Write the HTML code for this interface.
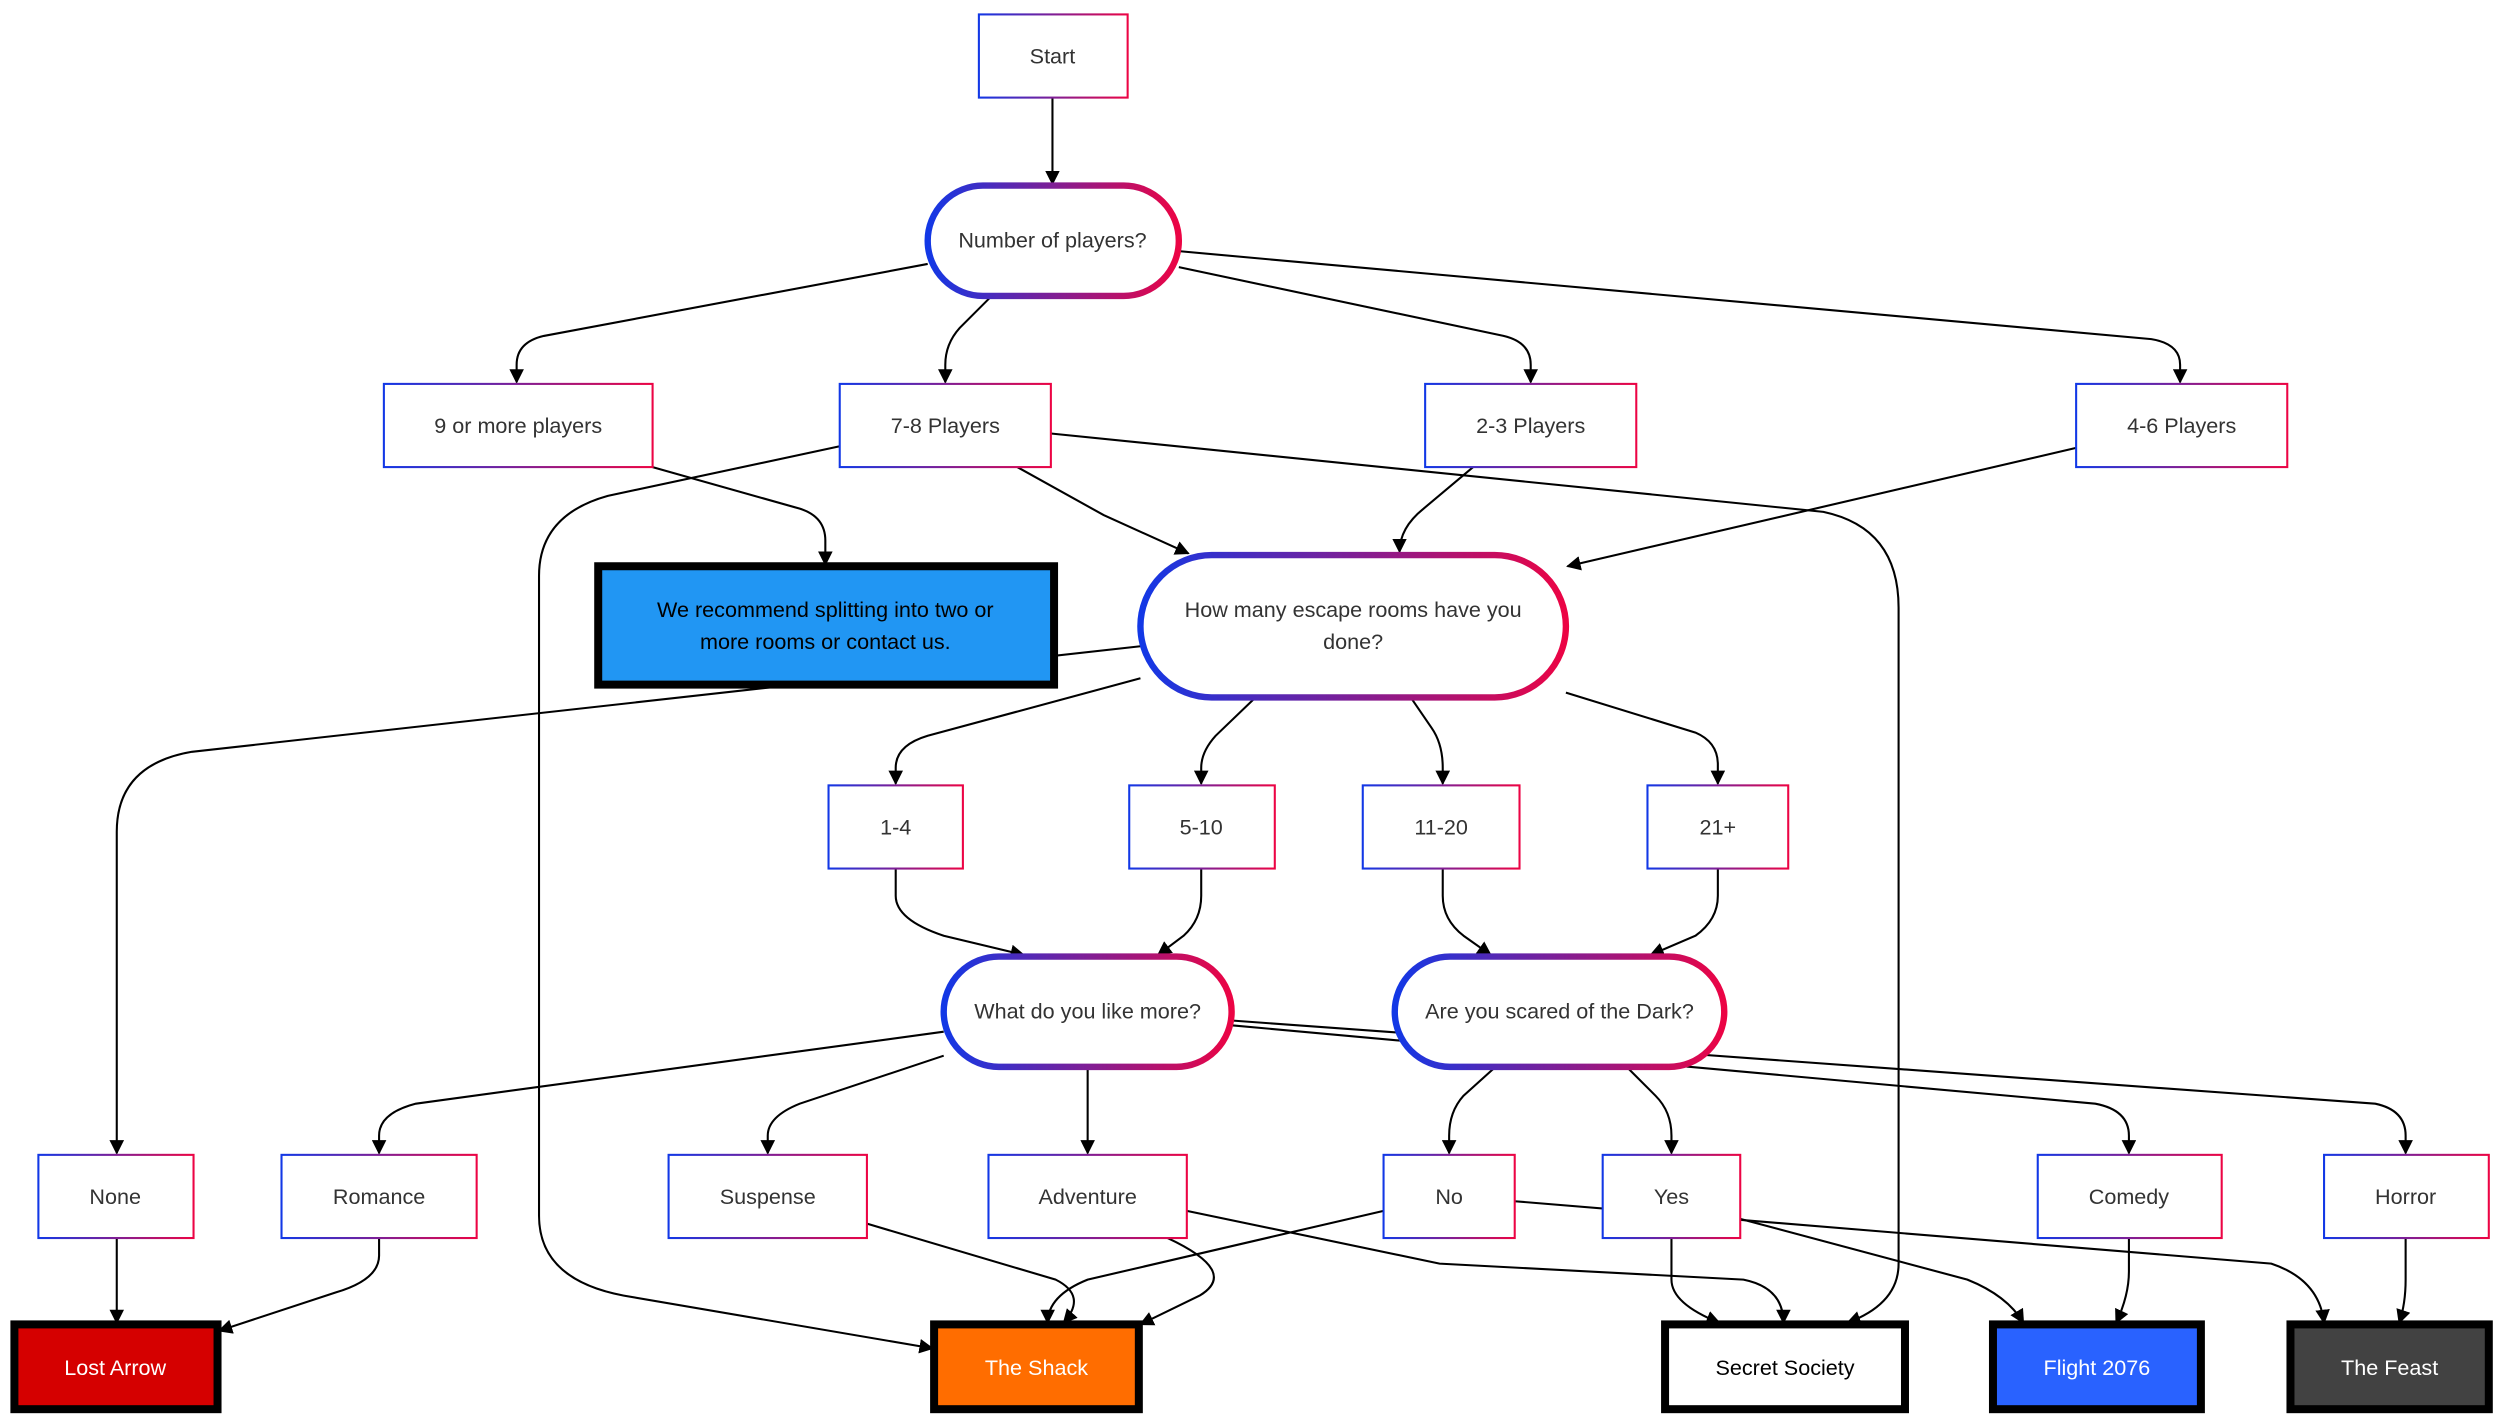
<!DOCTYPE html>
<html><head><meta charset="utf-8"><style>
html,body{margin:0;padding:0;background:#fff;}
svg{display:block;}
text{font-family:"Liberation Sans",Arial,sans-serif;font-size:13.5px;fill:#333;text-anchor:middle;dominant-baseline:central;}
.e{fill:none;stroke:#000;stroke-width:1.3;marker-end:url(#a);}
.r{fill:#fff;stroke:url(#g);stroke-width:1.3;}
.p{fill:#fff;stroke:url(#g);stroke-width:4;}
.f{stroke:#000;stroke-width:5;}
.w{fill:#fff;}
</style></head><body>
<svg width="2500" height="1422" viewBox="0 0 1563 889" xmlns="http://www.w3.org/2000/svg">
<defs>
<linearGradient id="g" x1="0" y1="0" x2="1" y2="0"><stop offset="0" stop-color="#1238e6"/><stop offset="1" stop-color="#ec0444"/></linearGradient>
<marker id="a" viewBox="0 0 10 10" refX="9" refY="5" markerWidth="7" markerHeight="7" orient="auto-start-reverse"><path d="M0,0 L10,5 L0,10 z" fill="#000"/></marker>
</defs>
<!-- edges -->
<path class="e" d="M658,61 V115"/>
<path class="e" d="M580,165 L340,210 Q323,214 323,228 V239"/>
<path class="e" d="M620,185 L600,205 Q591,215 591,228 V239"/>
<path class="e" d="M737,167 L940,210 Q957,214 957,228 V239"/>
<path class="e" d="M737,157 L1345,212 Q1363,215 1363,228 V239"/>
<path class="e" d="M408,292 L500,318 Q516,323 516,338 V353"/>
<path class="e" d="M636,292 L690,322 L743,346"/>
<path class="e" d="M525,279 L380,310 Q337,322 337,360 V760 Q337,800 390,810 L583,843"/>
<path class="e" d="M657,271 L1140,320 Q1187,330 1187,380 V790 Q1187,815 1155,827"/>
<path class="e" d="M921,292 L890,318 Q875,330 875,345"/>
<path class="e" d="M1298,280 L980,354"/>
<path class="e" d="M713,404 L120,470 Q73,478 73,520 V721"/>
<path class="e" d="M713,424 L580,460 Q560,466 560,480 V490"/>
<path class="e" d="M785,436 L760,460 Q751,470 751,480 V490"/>
<path class="e" d="M882,436 L895,455 Q902,465 902,480 V490"/>
<path class="e" d="M979,433 L1060,458 Q1074,464 1074,478 V490"/>
<path class="e" d="M560,543 V560 Q560,575 590,585 L640,597"/>
<path class="e" d="M751,543 V560 Q751,575 740,585 L724,597"/>
<path class="e" d="M902,543 V560 Q902,575 915,585 L932,597"/>
<path class="e" d="M1074,543 V560 Q1074,575 1060,585 L1032,597"/>
<path class="e" d="M590,645 L260,690 Q237,696 237,710 V721"/>
<path class="e" d="M590,660 L500,690 Q480,698 480,710 V721"/>
<path class="e" d="M680,667 V721"/>
<path class="e" d="M770,641 L1310,690 Q1331,694 1331,710 V721"/>
<path class="e" d="M770,638 L1485,690 Q1504,694 1504,710 V721"/>
<path class="e" d="M935,667 L915,685 Q906,695 906,710 V721"/>
<path class="e" d="M1017,667 L1035,685 Q1045,695 1045,710 V721"/>
<path class="e" d="M73,774 V827"/>
<path class="e" d="M237,774 V785 Q237,800 210,808 L137,832"/>
<path class="e" d="M542,765 L660,800 Q680,810 665,827"/>
<path class="e" d="M730,774 Q775,795 750,810 L713,828"/>
<path class="e" d="M742,757 L900,790 L1090,800 Q1115,805 1115,827"/>
<path class="e" d="M865,757 L680,800 Q655,810 655,827"/>
<path class="e" d="M947,751 L1420,790 Q1450,800 1453,827"/>
<path class="e" d="M1045,774 V800 Q1045,815 1075,827"/>
<path class="e" d="M1088,762 L1230,800 Q1255,810 1265,827"/>
<path class="e" d="M1331,774 V795 Q1331,810 1323,827"/>
<path class="e" d="M1504,774 V800 Q1504,815 1500,827"/>
<!-- nodes -->
<rect class="r" x="612" y="9" width="93" height="52"/><text x="658" y="35">Start</text>
<rect class="p" x="580" y="116" width="157" height="69" rx="34.5"/><text x="658" y="150">Number of players?</text>
<rect class="r" x="240" y="240" width="168" height="52"/><text x="324" y="266">9 or more players</text>
<rect class="r" x="525" y="240" width="132" height="52"/><text x="591" y="266">7-8 Players</text>
<rect class="r" x="891" y="240" width="132" height="52"/><text x="957" y="266">2-3 Players</text>
<rect class="r" x="1298" y="240" width="132" height="52"/><text x="1364" y="266">4-6 Players</text>
<rect class="f" x="374" y="354" width="285" height="74" fill="#2196f3"/>
<text x="516" y="381" style="fill:#000">We recommend splitting into two or</text><text x="516" y="401" style="fill:#000">more rooms or contact us.</text>
<rect class="p" x="713" y="347" width="266" height="89" rx="44.5"/>
<text x="846" y="381">How many escape rooms have you</text><text x="846" y="401">done?</text>
<rect class="r" x="518" y="491" width="84" height="52"/><text x="560" y="517">1-4</text>
<rect class="r" x="706" y="491" width="91" height="52"/><text x="751" y="517">5-10</text>
<rect class="r" x="852" y="491" width="98" height="52"/><text x="901" y="517">11-20</text>
<rect class="r" x="1030" y="491" width="88" height="52"/><text x="1074" y="517">21+</text>
<rect class="p" x="590" y="598" width="180" height="69" rx="34.5"/><text x="680" y="632">What do you like more?</text>
<rect class="p" x="872" y="598" width="206" height="69" rx="34.5"/><text x="975" y="632">Are you scared of the Dark?</text>
<rect class="r" x="24" y="722" width="97" height="52"/><text x="72" y="748">None</text>
<rect class="r" x="176" y="722" width="122" height="52"/><text x="237" y="748">Romance</text>
<rect class="r" x="418" y="722" width="124" height="52"/><text x="480" y="748">Suspense</text>
<rect class="r" x="618" y="722" width="124" height="52"/><text x="680" y="748">Adventure</text>
<rect class="r" x="865" y="722" width="82" height="52"/><text x="906" y="748">No</text>
<rect class="r" x="1002" y="722" width="86" height="52"/><text x="1045" y="748">Yes</text>
<rect class="r" x="1274" y="722" width="115" height="52"/><text x="1331" y="748">Comedy</text>
<rect class="r" x="1453" y="722" width="103" height="52"/><text x="1504" y="748">Horror</text>
<rect class="f" x="9" y="828" width="127" height="53" fill="#d50000"/><text class="w" x="72" y="855">Lost Arrow</text>
<rect class="f" x="584" y="828" width="128" height="53" fill="#ff6d00"/><text class="w" x="648" y="855">The Shack</text>
<rect class="f" x="1041" y="828" width="150" height="53" fill="#fff"/><text x="1116" y="855" style="fill:#000">Secret Society</text>
<rect class="f" x="1246" y="828" width="130" height="53" fill="#2962ff"/><text class="w" x="1311" y="855">Flight 2076</text>
<rect class="f" x="1432" y="828" width="124" height="53" fill="#424242"/><text class="w" x="1494" y="855">The Feast</text>
</svg>
</body></html>
